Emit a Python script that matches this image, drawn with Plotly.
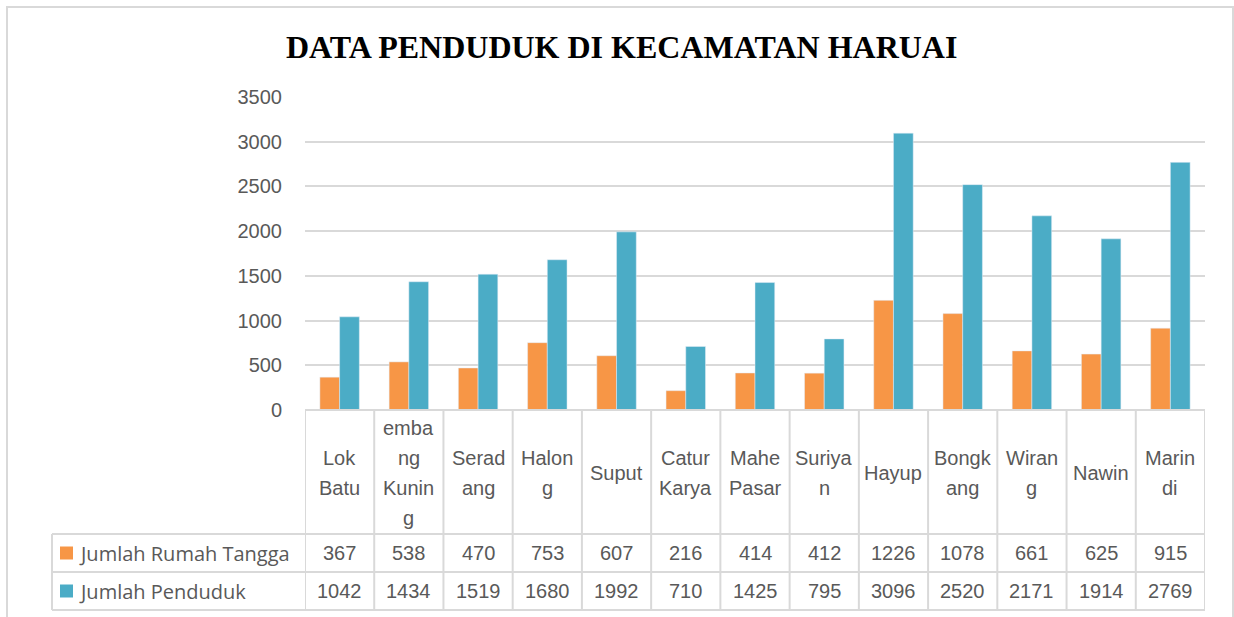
import plotly.graph_objects as go

categories = ["Lok Batu", "emba ng Kunin g", "Serad ang", "Halon g", "Suput", "Catur Karya",
              "Mahe Pasar", "Suriya n", "Hayup", "Bongk ang", "Wiran g", "Nawin", "Marin di"]
cat_lines = [["Lok", "Batu"], ["emba", "ng", "Kunin", "g"], ["Serad", "ang"], ["Halon", "g"],
             ["Suput"], ["Catur", "Karya"], ["Mahe", "Pasar"], ["Suriya", "n"], ["Hayup"],
             ["Bongk", "ang"], ["Wiran", "g"], ["Nawin"], ["Marin", "di"]]
rumah_tangga = [367, 538, 470, 753, 607, 216, 414, 412, 1226, 1078, 661, 625, 915]
penduduk = [1042, 1434, 1519, 1680, 1992, 710, 1425, 795, 3096, 2520, 2171, 1914, 2769]
series_names = ["Jumlah Rumah Tangga", "Jumlah Penduduk"]
colors = ["#F79646", "#4BACC6"]
title = "DATA PENDUDUK DI KECAMATAN HARUAI"

W, H = 1234, 617
L, R, T, B = 305, 1205, 97, 410
PH = B - T
PW = R - L


def py(p):
    return (B - p) / PH


def px(p):
    return (p - L) / PW


FONT = "Liberation Sans Narrow, Arial Narrow, Liberation Sans, sans-serif"
GRAY = "#595959"
LINE = "#D9D9D9"

x_idx = list(range(len(categories)))
fig = go.Figure()
fig.add_trace(go.Bar(x=x_idx, y=rumah_tangga, name=series_names[0], marker_color=colors[0]))
fig.add_trace(go.Bar(x=x_idx, y=penduduk, name=series_names[1], marker_color=colors[1]))

shapes = []
annotations = []
n = len(categories)

# table grid
row_top, row_cat, row_1, row_2 = 410, 534, 572, 610
for i in range(n + 1):
    shapes.append(dict(type="line", xref="x", yref="paper", x0=i - 0.5, x1=i - 0.5,
                       y0=py(row_top), y1=py(row_2), line=dict(color=LINE, width=2)))
for yy in [row_cat, row_1, row_2]:
    shapes.append(dict(type="line", xref="paper", yref="paper", x0=px(52), x1=1,
                       y0=py(yy), y1=py(yy), line=dict(color=LINE, width=2)))
shapes.append(dict(type="line", xref="paper", yref="paper", x0=px(52), x1=px(52),
                   y0=py(row_cat), y1=py(row_2), line=dict(color=LINE, width=2)))
shapes.append(dict(type="line", xref="paper", yref="paper", x0=0, x1=1,
                   y0=0, y1=0, line=dict(color=LINE, width=2)))
# outer frame
shapes.append(dict(type="rect", xref="paper", yref="paper", x0=px(7), x1=px(1233),
                   y0=py(640), y1=py(7), line=dict(color=LINE, width=2)))

# category labels
for i, lines in enumerate(cat_lines):
    k = len(lines)
    for j, t in enumerate(lines):
        yc = 473 + (j - (k - 1) / 2) * 30
        annotations.append(dict(x=i, y=py(yc), xref="x", yref="paper", text=t, showarrow=False,
                                font=dict(family=FONT, size=20, color=GRAY), yanchor="middle"))

# values
for vals, yc in [(rumah_tangga, 553), (penduduk, 591)]:
    for i, v in enumerate(vals):
        annotations.append(dict(x=i, y=py(yc), xref="x", yref="paper", text=str(v), showarrow=False,
                                font=dict(family=FONT, size=20, color=GRAY), yanchor="middle"))

# legend keys
for name, col, yc in [(series_names[0], colors[0], 553), (series_names[1], colors[1], 591)]:
    shapes.append(dict(type="rect", xref="paper", yref="paper", x0=px(60), x1=px(73),
                       y0=py(yc + 6.5), y1=py(yc - 6.5), fillcolor=col, line=dict(width=0)))
    annotations.append(dict(x=px(77), y=py(yc), xref="paper", yref="paper", text=name,
                            showarrow=False, xanchor="left", yanchor="middle",
                            font=dict(family="Open Sans, sans-serif", size=20, color=GRAY)))

annotations.append(dict(x=px(621), y=py(47), xref="paper", yref="paper", text="<b>" + title + "</b>",
                        showarrow=False, xanchor="center", yanchor="middle",
                        font=dict(family="Liberation Serif, Times New Roman, serif", size=32, color="#000000")))

fig.update_layout(
    width=W, height=H,
    margin=dict(l=L, r=W - R, t=T, b=H - B, pad=0),
    paper_bgcolor="white", plot_bgcolor="white",
    barmode="group", bargap=0.43, bargroupgap=0,
    showlegend=False,
    shapes=shapes, annotations=annotations,
    xaxis=dict(range=[-0.5, n - 0.5], showticklabels=False, showgrid=False, zeroline=False,
               showline=False, fixedrange=True),
    yaxis=dict(range=[0, 3500], tick0=0, dtick=500, showgrid=True, gridcolor=LINE, gridwidth=2,
               zeroline=False, showline=False, ticks="",
               tickfont=dict(family=FONT, size=20, color=GRAY), ticklabelstandoff=22),
)

fig.write_html("out.html", config={"displayModeBar": False},
               post_script="document.body.style.margin='0px';")
